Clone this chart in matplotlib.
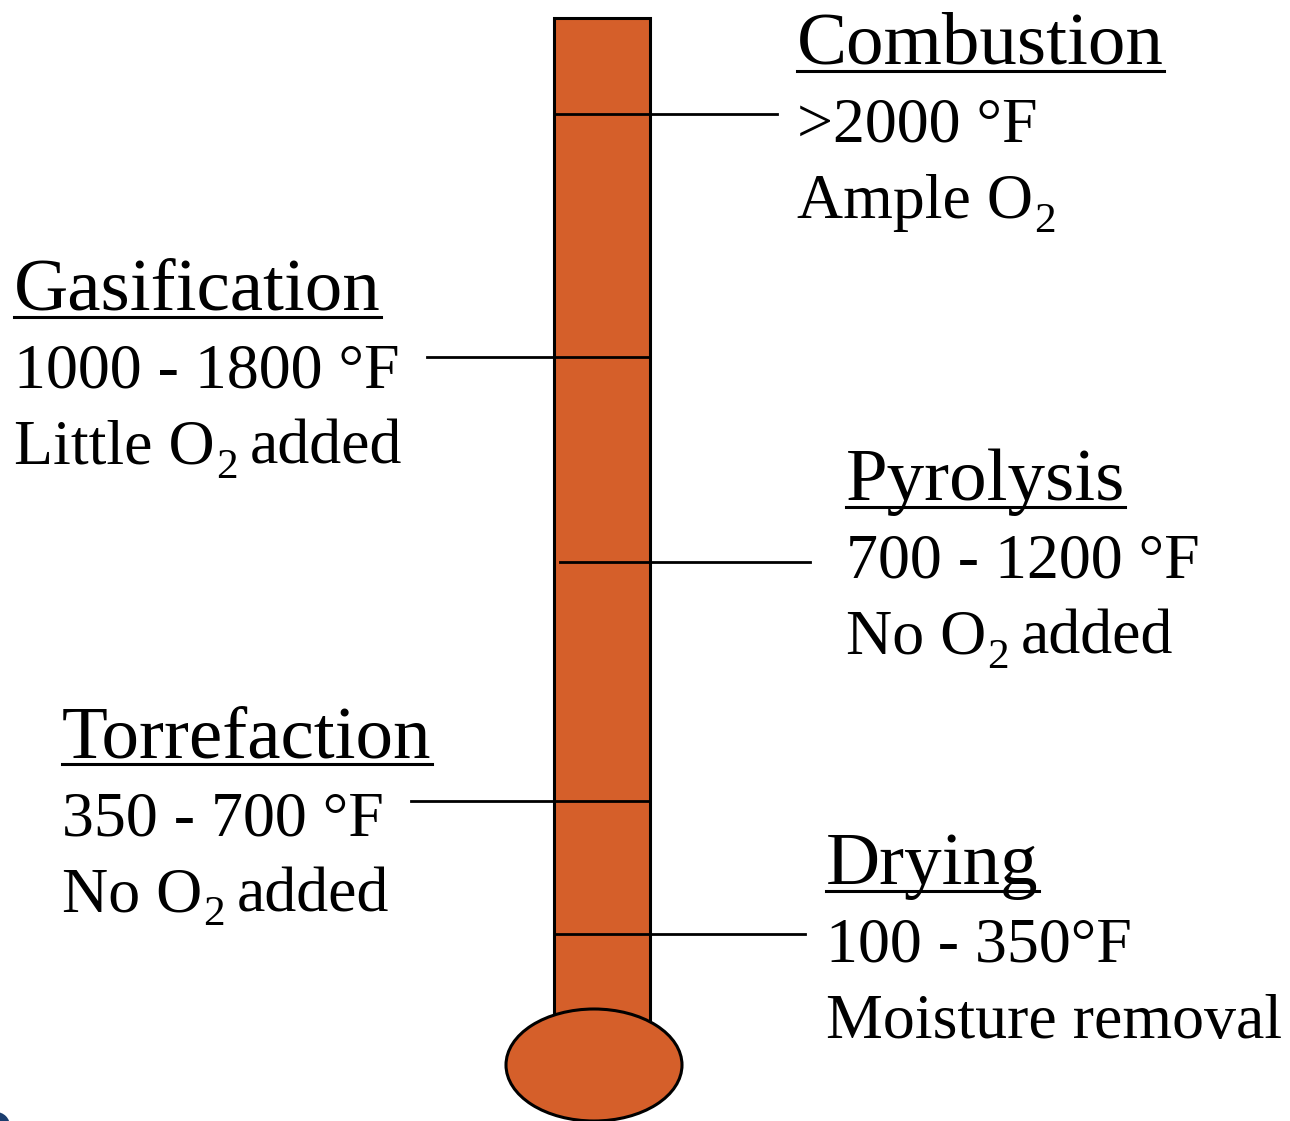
import matplotlib.pyplot as plt
from matplotlib.patches import Rectangle, Ellipse, Circle

plt.rcParams['font.family'] = ['Liberation Serif', 'DejaVu Serif']

# stage data
stages = ['Combustion', 'Gasification', 'Pyrolysis', 'Torrefaction', 'Drying']
temp_ranges = ['>2000 \u00b0F', '1000 - 1800 \u00b0F', '700 - 1200 \u00b0F',
               '350 - 700 \u00b0F', '100 - 350\u00b0F']
# "_2" marks a subscript 2
oxygen_notes = ['Ample O_2', 'Little O_2 added', 'No O_2 added',
                'No O_2 added', 'Moisture removal']

# layout (pixel coords, y down)
text_x = [797, 14, 846, 62, 826]
title_y = [64, 310, 500, 757, 884]
marker_y = [114, 357, 562, 801, 934]
marker_x = [(554, 777), (427, 650), (560, 810), (411, 650), (554, 805)]

W, H = 1290, 1121
fig = plt.figure(figsize=(W / 100, H / 100), dpi=100)
ax = fig.add_axes([0, 0, 1, 1])
ax.set_xlim(0, W)
ax.set_ylim(H, 0)
ax.axis('off')

fill = '#D55F2A'

# thermometer tube and bulb
ax.add_patch(Rectangle((554, 18), 96, 1030, facecolor=fill, edgecolor='black', lw=2.2, zorder=1))
ax.add_patch(Ellipse((594, 1065), 176, 112, facecolor=fill, edgecolor='black', lw=2.2, zorder=2))

# small corner artifact
ax.add_patch(Circle((-4, 1126), 14, facecolor='#1b3d6e', edgecolor='none', zorder=3))

fig.canvas.draw()
renderer = fig.canvas.get_renderer()
inv = ax.transData.inverted()


def right_edge(t):
    bb = t.get_window_extent(renderer)
    return inv.transform((bb.x1, bb.y0))[0]


def sub_text(x, y, s, size=46):
    parts = s.split('_2')
    t = ax.text(x, y, parts[0], fontsize=size, va='baseline', ha='left')
    for rest in parts[1:]:
        x = right_edge(t) + 1
        t2 = ax.text(x, y + 14, '2', fontsize=size * 0.68, va='baseline', ha='left')
        if rest.strip():
            x = right_edge(t2) + 12
            t = ax.text(x, y, rest.strip(), fontsize=size, va='baseline', ha='left')
    return t


for i, name in enumerate(stages):
    x0, x1 = marker_x[i]
    ax.plot([x0, x1], [marker_y[i], marker_y[i]], color='black', lw=2, zorder=4)

    t = ax.text(text_x[i], title_y[i], name, fontsize=54, va='baseline', ha='left')
    ax.text(text_x[i], title_y[i] + 78, temp_ranges[i], fontsize=46, va='baseline', ha='left')
    sub_text(text_x[i], title_y[i] + 154, oxygen_notes[i])

    # underline the title
    bb = t.get_window_extent(renderer)
    (ux0, _), (ux1, _) = inv.transform([(bb.x0, 0), (bb.x1, 0)])
    ax.plot([ux0, ux1], [title_y[i] + 7, title_y[i] + 7], color='black', lw=2.2)

plt.savefig('out.png', dpi=100)
